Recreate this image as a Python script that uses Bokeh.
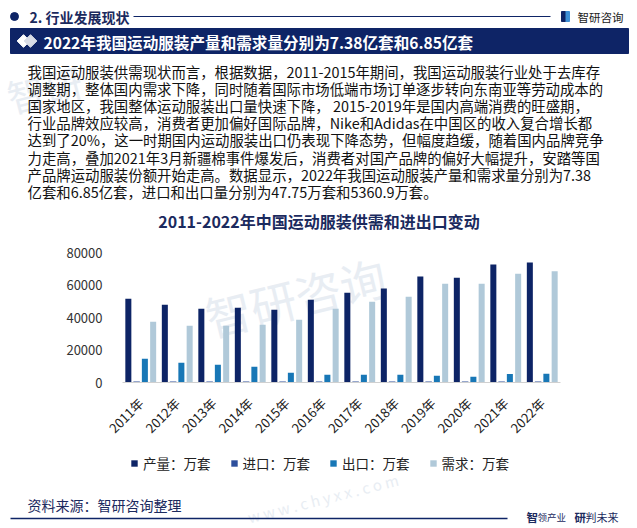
import math
from bokeh.plotting import figure
from bokeh.models import Range1d, FactorRange, ColumnDataSource, Legend, LegendItem, FixedTicker, NumeralTickFormatter
from bokeh.transform import dodge
from bokeh.core.properties import value
from bokeh.embed import file_html
from bokeh.resources import INLINE

FONT_NAME = "Noto Sans CJK SC"
FONT = value(FONT_NAME)
NAVY = "#0e2466"
WM = "#e8edf3"
W = 637

# ---------------- data ----------------
years = ["2011年", "2012年", "2013年", "2014年", "2015年", "2016年",
         "2017年", "2018年", "2019年", "2020年", "2021年", "2022年"]
production = [51600, 47900, 45400, 46000, 44800, 51000, 55300, 57800, 65200, 64500, 72600, 73800]
imports_ = [62, 58, 55, 60, 52, 50, 48, 53, 57, 45, 50, 47.75]
exports = [14600, 12100, 10900, 9700, 6000, 4700, 4700, 4700, 4100, 3500, 5300, 5360.9]
demand = [37400, 34900, 34900, 35600, 38600, 45400, 49700, 52800, 60800, 60800, 67000, 68500]
y_ticks = [0, 20000, 40000, 60000, 80000]

series_names = ["产量：万套", "进口：万套", "出口：万套", "需求：万套"]
series_colors = ["#0d2466", "#2d4f9c", "#1877b6", "#b0c9d9"]

header_text = "2. 行业发展现状"
logo_text = "智研咨询"
banner_text = "2022年我国运动服装产量和需求量分别为7.38亿套和6.85亿套"
paragraph = [
    "我国运动服装供需现状而言，根据数据，2011-2015年期间，我国运动服装行业处于去库存",
    "调整期，整体国内需求下降，同时随着国际市场低端市场订单逐步转向东南亚等劳动成本的",
    "国家地区，我国整体运动服装出口量快速下降，  2015-2019年是国内高端消费的旺盛期，",
    "行业品牌效应较高，消费者更加偏好国际品牌，Nike和Adidas在中国区的收入复合增长都",
    "达到了20%，这一时期国内运动服装出口仍表现下降态势，但幅度趋缓，随着国内品牌竞争",
    "力走高，叠加2021年3月新疆棉事件爆发后，消费者对国产品牌的偏好大幅提升，安踏等国",
    "产品牌运动服装份额开始走高。数据显示，2022年我国运动服装产量和需求量分别为7.38",
    "亿套和6.85亿套，进口和出口量分别为47.75万套和5360.9万套。",
]
chart_title = "2011-2022年中国运动服装供需和进出口变动"
source_text = "资料来源：智研咨询整理"
slogan_parts = ["智", "领产业", "研", "判未来"]
watermark_name = "智研咨询"
watermark_url = "w w w . c h y x x . c o m"


def deco_fig(y0, y1):
    f = figure(width=W, height=y1 - y0, x_range=Range1d(0, W), y_range=Range1d(y1, y0),
               x_axis_type=None, y_axis_type=None, toolbar_location=None,
               output_backend="svg", min_border=0, outline_line_color=None)
    f.grid.visible = False
    return f


# ---------------- top decoration (page y 0..240) ----------------
t = deco_fig(0, 240)
t.text(x=[14], y=[124], text=["智研"], angle=0.25, text_font=FONT, text_font_size="38px",
       text_color=WM, text_baseline="bottom")
t.scatter(x=[14], y=[16], size=8, color=NAVY)
t.text(x=[29], y=[16.5], text=[header_text], text_font=FONT, text_font_size="14px",
       text_font_style="bold", text_color="#1b2a5e", text_baseline="middle")
t.segment(x0=[133], y0=[16], x1=[550], y1=[16], line_color=NAVY, line_width=1)
t.quad(left=[561], right=[565], top=[11], bottom=[21], color=NAVY)
t.quad(left=[565.5], right=[569], top=[11], bottom=[21], color="#3d8fd6")
t.text(x=[577], y=[16.5], text=[logo_text], text_font=FONT, text_font_size="11.5px",
       text_color="#222222", text_baseline="middle")
t.quad(left=[10], right=[628], top=[28], bottom=[53], color=NAVY)
t.scatter(x=[23, 30], y=[40.5, 40.5], marker="square", angle=math.pi / 4, size=9,
          color=["#ffffff", "#d9dde6"])
t.text(x=[43], y=[41], text=[banner_text], text_font=FONT, text_font_size="15.6px",
       text_font_style="bold", text_color="#ffffff", text_baseline="middle")
t.text(x=[27] * len(paragraph), y=[71 + 17.1 * i for i in range(len(paragraph))], text=paragraph,
       text_font=FONT, text_font_size="14.4px", text_color="#111111", text_baseline="middle")
t.text(x=[318.5], y=[220], text=[chart_title], text_font=FONT, text_font_size="16px",
       text_font_style="bold", text_color="#1b2a5e", text_baseline="middle", text_align="center")

# ---------------- chart (page y 240..445) ----------------
src = ColumnDataSource(dict(years=years, production=production, imports=imports_,
                            exports=exports, demand=demand))
c = figure(x_range=FactorRange(*years), y_range=Range1d(0, 80000),
           frame_width=438, frame_height=130,
           min_border_left=122, min_border_right=77, min_border_top=12, min_border_bottom=63,
           toolbar_location=None, output_backend="svg", outline_line_color=None)
c.text(x=["2013年"], y=[20000], text=[watermark_name], angle=0.24, text_font=FONT,
       text_font_size="46px", text_color=WM, text_baseline="bottom")
offsets = [-0.34, -0.113, 0.113, 0.34]
cols = ["production", "imports", "exports", "demand"]
for off, col, colr in zip(offsets, cols, series_colors):
    thin = col == "imports"
    c.vbar(x=dodge("years", off, range=c.x_range), top=col, width=0.165, source=src,
           fill_color=colr, line_color=colr if thin else None, line_width=2 if thin else 0)

c.grid.visible = False
c.yaxis.ticker = FixedTicker(ticks=y_ticks)
c.yaxis.formatter = NumeralTickFormatter(format="0")
c.yaxis.axis_line_color = None
c.yaxis.major_tick_line_color = None
c.yaxis.minor_tick_line_color = None
c.yaxis.major_label_standoff = 14
c.yaxis.major_label_text_font = FONT_NAME
c.yaxis.major_label_text_font_size = "13px"
c.yaxis.major_label_text_color = "#333333"
c.xaxis.axis_line_color = "#d0d0d0"
c.xaxis.major_tick_line_color = None
c.xaxis.minor_tick_line_color = None
c.xaxis.major_label_orientation = math.pi / 4
c.xaxis.major_label_standoff = 12
c.xaxis.major_label_text_font = FONT_NAME
c.xaxis.major_label_text_font_size = "13px"
c.xaxis.major_label_text_color = "#222222"

# ---------------- footer with legend (page y 445..528) ----------------
f = deco_fig(445, 528)
f.text(x=[250], y=[526], text=[watermark_url], angle=0.25, text_font=FONT,
       text_font_size="15px", text_color=WM, text_baseline="bottom")
nan = float("nan")
legend_renderers = [f.vbar(x=[0], top=[nan], width=1, fill_color=colr, line_color=None)
                    for colr in series_colors]
legend = Legend(items=[LegendItem(label=n, renderers=[r]) for n, r in zip(series_names, legend_renderers)],
                orientation="horizontal", location=(130, 56), glyph_width=8, glyph_height=8,
                label_standoff=5, spacing=19, padding=0, margin=0, border_line_color=None,
                background_fill_alpha=0, label_text_font=FONT_NAME, label_text_font_size="13.5px",
                label_text_color="#222222")
f.add_layout(legend)
f.text(x=[27], y=[503], text=[source_text], text_font=FONT, text_font_size="14px",
       text_color="#1b2a5e", text_baseline="middle")
f.segment(x0=[10], y0=[517], x1=[507], y1=[517], line_color=NAVY, line_width=1.5)
f.text(x=[526, 537, 574, 585], y=[515, 515.5, 515, 515.5], text=slogan_parts,
       text_font=FONT, text_font_size=["11.5px", "9.5px", "11.5px", "11px"],
       text_font_style=["bold", "normal", "bold", "normal"], text_color="#1b2a5e",
       text_baseline="middle")

open("out.html", "w").write(file_html([t, c, f], INLINE))
